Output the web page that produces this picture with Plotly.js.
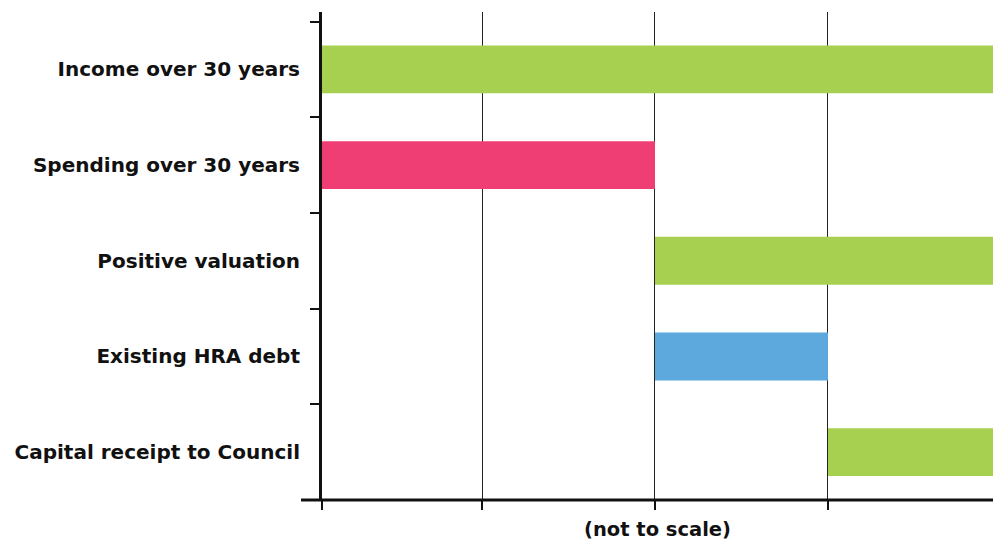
<!DOCTYPE html>
<html>
<head>
<meta charset="utf-8">
<script src="https://cdn.plot.ly/plotly-3.0.1.min.js"></script>
<style>html,body{margin:0;padding:0;background:#fff;}#chart{width:993px;height:541px;}</style>
</head>
<body>
<div id="chart"></div>
<script>
// Data (not to scale — illustrative units)
const categories = ["Income over 30 years", "Spending over 30 years", "Positive valuation", "Existing HRA debt", "Capital receipt to Council"];
const barStart = [0, 0, 2, 2, 3];
const barLength = [4, 2, 2, 1, 1];
const barColors = ["#a8d050", "#ee3e74", "#a8d050", "#5da9dd", "#a8d050"];
const gridVals = [0.075, 1, 2, 3];
const xAxisTitle = "(not to scale)";

const FONT = "'DejaVu Sans', sans-serif";

const trace = {
  type: "bar",
  orientation: "h",
  y: categories,
  x: barLength,
  base: barStart,
  width: 0.5,
  marker: {color: barColors, line: {width: 0}},
  hoverinfo: "skip"
};

const layout = {
  width: 993,
  height: 541,
  margin: {l: 322, r: 0, t: 12, b: 41},
  paper_bgcolor: "#ffffff",
  plot_bgcolor: "#ffffff",
  showlegend: false,
  font: {family: FONT, color: "#111"},
  xaxis: {
    range: [0.075, 3.954],
    tickmode: "array",
    tickvals: gridVals,
    showticklabels: false,
    ticks: "outside",
    ticklen: 9,
    tickwidth: 2,
    tickcolor: "#111",
    showgrid: true,
    gridcolor: "#222",
    gridwidth: 1,
    zeroline: false,
    showline: false,
    title: {text: xAxisTitle, font: {family: FONT, size: 19.5, color: "#111", weight: 700}, standoff: 14}
  },
  yaxis: {
    type: "category",
    range: [4.5, -0.6],
    tickson: "boundaries",
    ticks: "outside",
    ticklen: 9,
    tickwidth: 2,
    tickcolor: "#111",
    showline: true,
    linewidth: 3,
    linecolor: "#111",
    showgrid: false,
    zeroline: false,
    ticklabelstandoff: 15,
    tickfont: {family: FONT, size: 20, color: "#111", weight: 700}
  },
  shapes: [
    {type: "line", xref: "paper", yref: "paper", x0: -21/671, x1: 1, y0: 0, y1: 0,
     line: {color: "#111", width: 3}}
  ],
  bargap: 0.5
};

Plotly.newPlot("chart", [trace], layout, {displayModeBar: false, staticPlot: true});
</script>
</body>
</html>
